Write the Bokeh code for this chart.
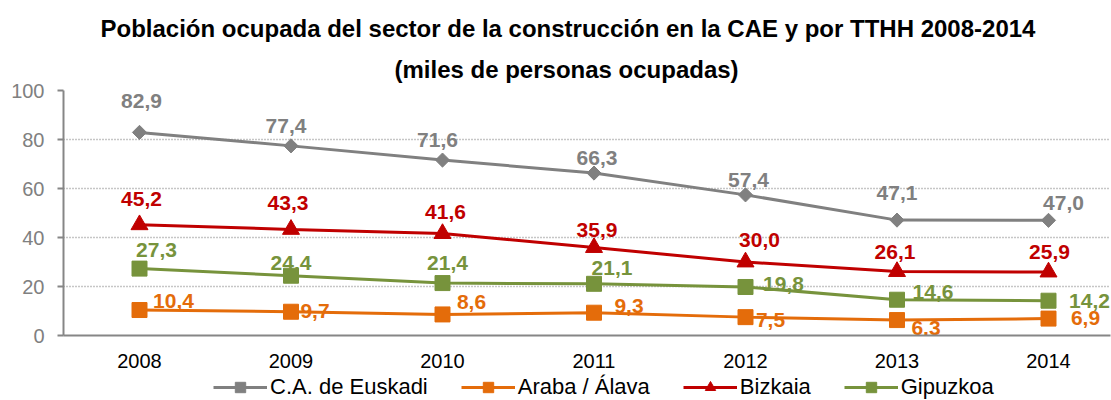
import math
from bokeh.plotting import figure
from bokeh.layouts import column
from bokeh.models import ColumnDataSource, Legend, LegendItem, Title, FixedTicker, Range1d
from bokeh.embed import file_html
from bokeh.resources import INLINE
from bokeh.core.properties import value

# ---------------- data ----------------
years = [2008, 2009, 2010, 2011, 2012, 2013, 2014]
euskadi = [82.9, 77.4, 71.6, 66.3, 57.4, 47.1, 47.0]
araba = [10.4, 9.7, 8.6, 9.3, 7.5, 6.3, 6.9]
bizkaia = [45.2, 43.3, 41.6, 35.9, 30.0, 26.1, 25.9]
gipuzkoa = [27.3, 24.4, 21.4, 21.1, 19.8, 14.6, 14.2]
series_names = ["C.A. de Euskadi", "Araba / Álava", "Bizkaia", "Gipuzkoa"]
y_ticks = [0, 20, 40, 60, 80, 100]
title_line1 = "Población ocupada del sector de la construcción en la CAE y por TTHH 2008-2014"
title_line2 = "(miles de personas ocupadas)"

# ---------------- label placement (screen px offsets) ----------------
off_euskadi = [(2, -31), (-5, -20), (-5, -20), (3, -15), (3, -15), (0, -27), (15, -17)]
off_araba = [(34, -9), (24, -1), (29, -12), (35, -7), (25, 3), (29, 8), (37, -1)]
off_bizkaia = [(2, -26), (-3, -26), (3, -22), (3, -18), (14, -22), (-2, -20), (1, -20)]
off_gipuzkoa = [(17, -19), (0, -13), (5, -20), (18, -16), (38, -3), (36, -8), (41, 0)]

FONT = "Liberation Sans"

p = figure(width=1111, height=372, output_backend="svg", toolbar_location=None,
           title=title_line1,
           x_range=Range1d(2008 - 76 / 151.5, 2014 + 62 / 151.5), y_range=Range1d(0, 100),
           min_border_left=63, min_border_right=1, min_border_top=90, min_border_bottom=37)
p.outline_line_color = None
p.background_fill_color = "white"
p.border_fill_color = "white"

p.title.text_font = FONT
p.title.text_font_size = "24px"
p.title.text_font_style = "bold"
p.title.text_color = "black"
p.title.align = "left"
p.title.offset = 37
p.title.standoff = 8
t2 = Title(text=title_line2, align="left", offset=331, text_font=FONT,
           text_color="black", text_font_size="24px", text_font_style="bold", standoff=16)
p.add_layout(t2, "above")

# axes
p.xaxis.ticker = FixedTicker(ticks=years)
p.yaxis.ticker = FixedTicker(ticks=y_ticks)
p.xaxis.axis_line_color = "#868686"
p.xaxis.axis_line_width = 2
p.xaxis.major_tick_line_color = None
p.xaxis.minor_tick_line_color = None
p.xaxis.major_label_text_font = FONT
p.xaxis.major_label_text_font_size = "20px"
p.xaxis.major_label_text_color = "black"
p.xaxis.major_label_standoff = 12

p.yaxis.axis_line_color = "#868686"
p.yaxis.axis_line_width = 2
p.yaxis.major_tick_line_color = "#868686"
p.yaxis.major_tick_line_width = 2
p.yaxis.major_tick_out = 6
p.yaxis.major_tick_in = 0
p.yaxis.minor_tick_line_color = None
p.yaxis.major_label_text_font = FONT
p.yaxis.major_label_text_font_size = "20px"
p.yaxis.major_label_text_color = "#808080"
p.yaxis.major_label_standoff = 13

p.xgrid.grid_line_color = None
p.ygrid.grid_line_color = "#8c8c8c"
p.ygrid.grid_line_width = 1.5
p.ygrid.grid_line_dash = "1 2"

series = [
    (euskadi, "#808080", "diamond", off_euskadi),
    (araba, "#E46C0A", "square", off_araba),
    (bizkaia, "#C00000", "triangle", off_bizkaia),
    (gipuzkoa, "#77933C", "square", off_gipuzkoa),
]


def draw_series(fig, src, color, mk):
    ln = fig.line("x", "y", source=src, line_color=color, line_width=3)
    if mk == "diamond":
        sc = fig.scatter("x", "y", source=src, marker="square", angle=math.pi / 4,
                         size=10, fill_color=color, line_color=color)
    elif mk == "triangle":
        sc = fig.scatter("x", "y", source=src, marker="triangle", size=17,
                         fill_color=color, line_color=color)
    else:
        sc = fig.scatter("x", "y", source=src, marker="square", size=15,
                         fill_color=color, line_color=color)
    return ln, sc


for vals, color, mk, offs in series:
    draw_series(p, ColumnDataSource(dict(x=years, y=vals)), color, mk)

for vals, color, mk, offs in series:
    lsrc = ColumnDataSource(dict(
        x=years, y=vals,
        t=[f"{v:.1f}".replace(".", ",") for v in vals],
        dx=[o[0] for o in offs], dy=[o[1] for o in offs]))
    p.text("x", "y", text="t", source=lsrc, x_offset="dx", y_offset="dy",
           text_align="center", text_baseline="middle", text_color=color,
           text_font=value(FONT), text_font_size="21px", text_font_style="bold")

# ---------------- legend strip ----------------
lf = figure(width=1111, height=28, output_backend="svg", toolbar_location=None,
            x_range=Range1d(0, 1), y_range=Range1d(0, 1),
            min_border_left=0, min_border_right=0, min_border_top=0, min_border_bottom=0)
lf.axis.visible = False
lf.grid.visible = False
lf.outline_line_color = None
lf.border_fill_color = "white"

items = []
for name, (vals, color, mk, offs) in zip(series_names, series):
    # renderers kept off-range: only their legend swatches are shown
    ln, sc = draw_series(lf, ColumnDataSource(dict(x=[5, 6], y=[5, 6])), color, mk)
    items.append(LegendItem(label=name, renderers=[ln, sc]))

legend = Legend(items=items, orientation="horizontal", location=(150, 0),
                label_text_font=FONT, label_text_font_size="22px", label_text_color="black",
                glyph_width=54, glyph_height=26, label_standoff=3, spacing=33,
                padding=0, margin=0, border_line_color=None, background_fill_alpha=0)
lf.add_layout(legend, "center")

open("out.html", "w").write(file_html(column(p, lf, spacing=0), INLINE))
